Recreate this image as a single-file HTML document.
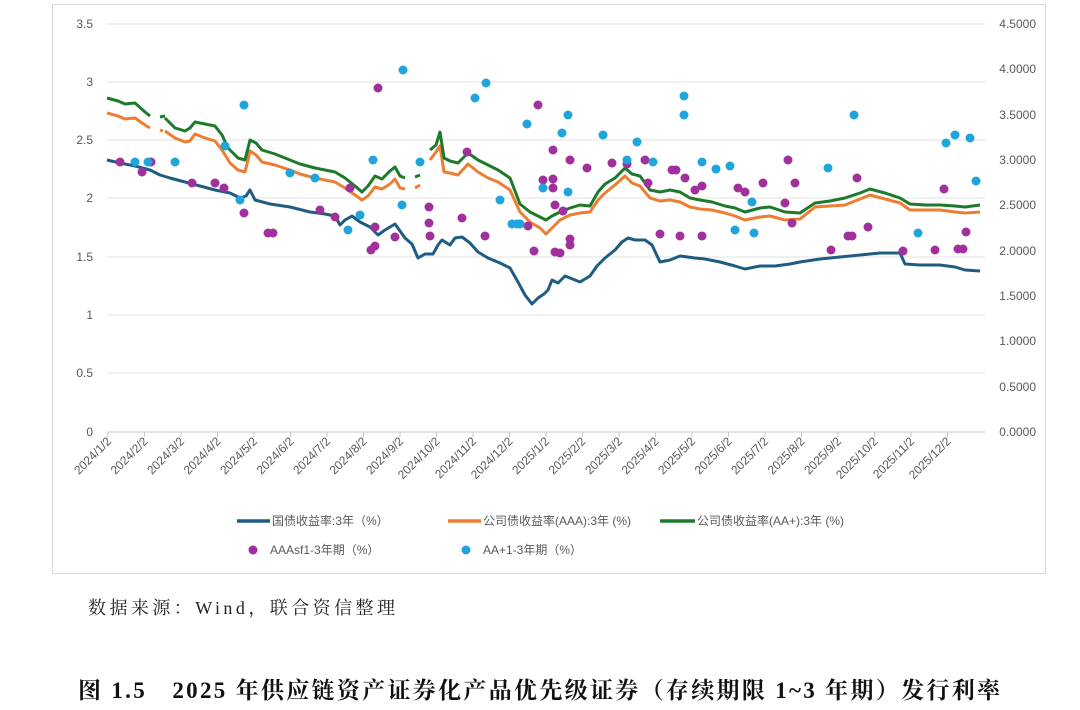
<!DOCTYPE html>
<html><head><meta charset="utf-8"><style>
body{margin:0;background:#fff;width:1080px;height:710px;overflow:hidden;font-family:"Liberation Sans","Noto Sans CJK SC",sans-serif}
</style></head><body>
<svg width="1080" height="710" xmlns="http://www.w3.org/2000/svg" style="position:absolute;left:0;top:0">
<rect x="52.5" y="4.5" width="993" height="569" fill="#fff" stroke="#d9d9d9"/>
<g stroke="#e0e0e0" stroke-width="1">
<line x1="107" x2="985" y1="24" y2="24"/><line x1="107" x2="985" y1="82" y2="82"/><line x1="107" x2="985" y1="140" y2="140"/><line x1="107" x2="985" y1="198" y2="198"/><line x1="107" x2="985" y1="257" y2="257"/><line x1="107" x2="985" y1="315" y2="315"/><line x1="107" x2="985" y1="373" y2="373"/>
</g>
<line x1="107" x2="985" y1="432" y2="432" stroke="#c8c8c8"/>
<g stroke="#c8c8c8" id="ticks"></g>
<g font-size="12" fill="#595959" text-anchor="end">
<text x="93" y="28">3.5</text><text x="93" y="86">3</text><text x="93" y="144">2.5</text><text x="93" y="202">2</text><text x="93" y="261">1.5</text><text x="93" y="319">1</text><text x="93" y="377">0.5</text><text x="93" y="436">0</text>
</g>
<g font-size="12" fill="#595959" text-anchor="end">
<text x="1036" y="28">4.5000</text><text x="1036" y="73">4.0000</text><text x="1036" y="119">3.5000</text><text x="1036" y="164">3.0000</text><text x="1036" y="209">2.5000</text><text x="1036" y="255">2.0000</text><text x="1036" y="300">1.5000</text><text x="1036" y="345">1.0000</text><text x="1036" y="391">0.5000</text><text x="1036" y="436">0.0000</text>
</g>
<g font-size="12" fill="#595959" text-anchor="end" id="xl"></g>
<g fill="none" stroke-width="3" stroke-linejoin="round">
<polyline stroke="#1f5c82" points="107,160 120,163 135,166 150,170 160,175 170,178 185,182 200,186 215,190 230,193 240,198 246,196 250,190 255,200 270,204 290,207 310,212 325,214 335,216 340,225 345,220 352,216 360,222 370,227 378,235 385,230 395,224 405,238 412,244 418,258 425,254 433,254 438,245 442,240 450,245 455,238 462,237 470,243 478,252 488,258 500,263 510,268 518,282 525,295 532,304 538,298 544,294 548,290 552,280 558,283 565,276 580,282 590,276 597,266 605,258 615,250 622,242 628,238 635,240 645,240 652,245 660,262 670,260 680,256 695,258 705,259 720,262 735,266 745,269 760,266 775,266 790,264 800,262 820,259 840,257 860,255 880,253 900,253 905,264 920,265 940,265 955,267 965,270 980,271"/>
<path stroke="#ed7d31" d="M107,113 L118,116 125,119 135,118 145,125 150,128 M160,130 L163,131 M165,131 L175,138 185,142 190,141 195,134 205,138 215,141 222,150 230,163 238,170 245,172 248,160 250,151 256,155 262,162 275,165 290,170 300,174 315,178 325,180 335,182 345,188 355,195 362,200 368,196 375,187 382,189 390,184 395,179 400,188 405,189 M415,188 L420,185 M430,160 L436,152 440,146 444,172 450,173 458,175 468,164 478,172 488,178 498,182 510,190 520,212 530,222 540,228 546,234 552,228 560,220 570,215 580,213 590,212 598,200 605,193 615,185 625,176 632,183 640,186 650,198 660,201 670,200 680,202 690,207 700,209 712,210 725,213 735,216 745,220 760,217 770,216 785,220 800,219 815,207 830,206 845,205 860,199 870,195 885,199 900,203 910,210 925,210 940,210 955,212 965,213 980,212"/>
<path stroke="#1e7a2a" d="M107,98 L118,101 125,104 135,103 145,112 150,116 M160,117 L165,116 M165,118 L175,128 185,131 190,128 195,122 205,124 215,126 222,135 228,148 238,158 245,160 248,148 250,140 256,143 262,150 275,154 290,160 300,164 315,168 325,170 335,172 345,178 355,186 362,192 368,186 375,176 382,179 390,171 395,167 400,176 405,178 M415,177 L420,175 M430,150 L436,145 440,132 444,158 450,161 458,163 468,153 478,160 488,165 498,170 510,178 520,204 530,212 540,217 546,220 552,216 560,212 570,208 580,205 590,206 598,192 605,184 615,178 625,168 632,174 640,176 650,190 660,192 670,190 680,192 690,198 700,200 712,202 725,206 735,208 745,212 760,208 770,207 785,212 800,213 815,203 830,201 845,198 860,193 870,189 885,193 900,198 910,204 925,205 940,205 955,206 965,207 980,205"/>
</g>
<g fill="#a0309b" id="pp"></g>
<g fill="#1fa5dc" id="bp"></g>
<g font-size="12" fill="#595959">
<line x1="237" x2="270" y1="521" y2="521" stroke="#1f5c82" stroke-width="3.5"/><text x="272" y="525">国债收益率:3年（%）</text>
<line x1="448" x2="481" y1="521" y2="521" stroke="#ed7d31" stroke-width="3.5"/><text x="483" y="525">公司债收益率(AAA):3年 (%)</text>
<line x1="660" x2="695" y1="521" y2="521" stroke="#1e7a2a" stroke-width="3.5"/><text x="697" y="525">公司债收益率(AA+):3年 (%)</text>
<circle cx="253" cy="550" r="4.5" fill="#a0309b"/><text x="270" y="554">AAAsf1-3年期（%）</text>
<circle cx="466" cy="550" r="4.5" fill="#1fa5dc"/><text x="483" y="554">AA+1-3年期（%）</text>
</g>
<text x="88" y="614" font-size="18" fill="#222" textLength="307" lengthAdjust="spacing" font-family="'Liberation Serif','Noto Serif CJK SC',serif">数据来源：Wind，联合资信整理</text>
<text x="78" y="698" font-size="23" font-weight="bold" fill="#111" textLength="922" lengthAdjust="spacing" font-family="'Liberation Serif','Noto Serif CJK SC',serif">图 1.5　2025 年供应链资产证券化产品优先级证券（存续期限 1~3 年期）发行利率</text>
</svg>
<script>
var ns="http://www.w3.org/2000/svg";
var lab=["2024/1/2","2024/2/2","2024/3/2","2024/4/2","2024/5/2","2024/6/2","2024/7/2","2024/8/2","2024/9/2","2024/10/2","2024/11/2","2024/12/2","2025/1/2","2025/2/2","2025/3/2","2025/4/2","2025/5/2","2025/6/2","2025/7/2","2025/8/2","2025/9/2","2025/10/2","2025/11/2","2025/12/2"];
var xl=document.getElementById("xl"),tk=document.getElementById("ticks");
lab.forEach(function(s,i){var x=108+i*36.5;
var l=document.createElementNS(ns,"line");l.setAttribute("x1",x);l.setAttribute("x2",x);l.setAttribute("y1",432);l.setAttribute("y2",437);tk.appendChild(l);
var t=document.createElementNS(ns,"text");t.setAttribute("transform","translate("+(x+4)+",442) rotate(-45)");t.textContent=s;xl.appendChild(t);});
function dots(id,a){var g=document.getElementById(id);for(var i=0;i<a.length;i+=2){var c=document.createElementNS(ns,"circle");c.setAttribute("cx",a[i]);c.setAttribute("cy",a[i+1]);c.setAttribute("r",4.5);g.appendChild(c);}}
dots("pp",[120,162,142,172,151,162,192,183,215,183,224,188,244,213,268,233,273,233,320,210,335,217,350,188,378,88,371,250,375,246,375,227,395,237,429,207,429,223,430,236,462,218,467,152,485,236,528,226,534,251,538,105,543,180,553,150,553,179,553,188,555,205,555,252,560,253,563,211,570,160,570,239,570,245,587,168,612,163,627,164,645,160,648,183,660,234,672,170,676,170,680,236,685,178,695,190,702,186,702,236,738,188,745,192,763,183,785,203,788,160,795,183,792,223,831,250,848,236,852,236,857,178,868,227,903,251,935,250,944,189,958,249,963,249,966,232]);
dots("bp",[135,162,148,162,175,162,244,105,225,146,240,200,290,173,315,178,348,230,360,215,373,160,403,70,402,205,420,162,475,98,486,83,500,200,512,224,517,224,520,224,527,124,543,188,562,133,568,115,568,192,603,135,627,160,637,142,653,162,684,96,684,115,702,162,716,169,730,166,735,230,752,202,754,233,828,168,854,115,918,233,946,143,955,135,970,138,976,181]);
</script>
</body></html>
